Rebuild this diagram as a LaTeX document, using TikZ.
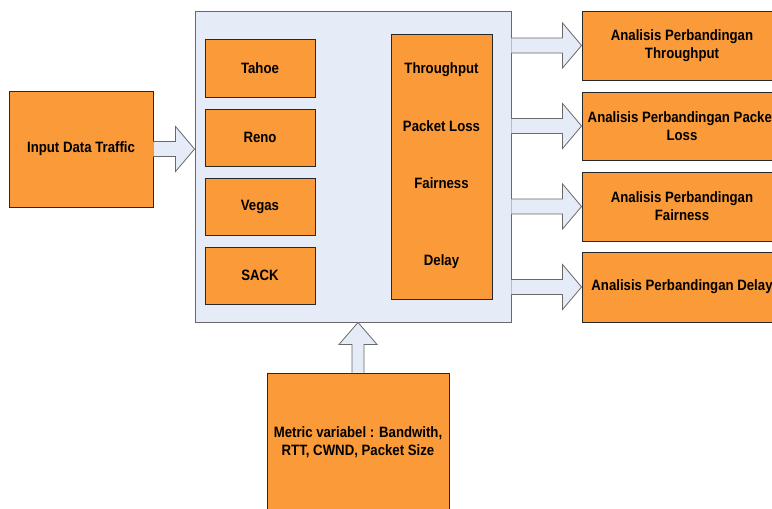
\documentclass[tikz,border=0pt]{standalone}
\usepackage{fontspec}
\setmainfont{Liberation Sans}[FakeStretch=0.88]
\usetikzlibrary{calc}
\definecolor{boxorange}{RGB}{250,154,56}
\definecolor{panelblue}{RGB}{229,236,247}
\definecolor{edgedark}{RGB}{40,40,40}
\definecolor{edgegray}{RGB}{105,105,105}
\tikzset{
  obox/.style={draw=edgedark, line width=0.9pt, fill=boxorange, inner sep=0pt,
    font=\bfseries\fontsize{15}{18}\selectfont, align=center},
  panel/.style={draw=edgegray, line width=0.9pt, fill=panelblue, inner sep=0pt},
  lbl/.style={inner sep=0pt, font=\bfseries\fontsize{15}{18}\selectfont, text height=10pt, text depth=3pt},
  barrow/.style={draw=edgegray, line width=0.8pt, fill=panelblue, line join=miter}
}
\newcommand{\harrow}[2]{%
  \draw[barrow] ($(#1)+(0,-7.5)$) -- ($(#2)+(-19,-7.5)$) -- ($(#2)+(-19,-22.5)$) -- (#2)
    -- ($(#2)+(-19,22.5)$) -- ($(#2)+(-19,7.5)$) -- ($(#1)+(0,7.5)$);}
\begin{document}
\begin{tikzpicture}[x=1pt,y=-1pt]
\clip (0,0) rectangle (772,509);
\fill[white] (0,0) rectangle (772,509);
% main panel
\node[panel, minimum width=316pt, minimum height=311pt] (main) at (353,166.5) {};
\node[obox, minimum width=110pt, minimum height=58pt] (tahoe) at (260,68) {Tahoe};
\node[obox, minimum width=110pt, minimum height=57pt] (reno) at (260,137.5) {Reno};
\node[obox, minimum width=110pt, minimum height=57pt] (vegas) at (260,206.5) {Vegas};
\node[obox, minimum width=110pt, minimum height=57pt] (sack) at (260,275.5) {SACK};
\node[obox, minimum width=101pt, minimum height=265pt] (metrics) at (441.5,166.5) {};
\node[lbl] (tput) at (441.5,70) {Throughput};
\node[lbl] (ploss) at (441.5,128) {Packet Loss};
\node[lbl] (fair) at (441.5,185) {Fairness};
\node[lbl] (delay) at (441.5,262) {Delay};
% input
\node[obox, minimum width=144pt, minimum height=116pt] (in) at (81,149) {Input Data Traffic};
% outputs
\node[obox, minimum width=200pt, minimum height=69pt] (r1) at (682,45.5) {Analisis Perbandingan\\Throughput};
\node[obox, minimum width=200pt, minimum height=68pt] (r2) at (682,126) {Analisis Perbandingan Packet\\Loss};
\node[obox, minimum width=200pt, minimum height=69pt] (r3) at (682,206.5) {Analisis Perbandingan\\Fairness};
\node[obox, minimum width=200pt, minimum height=70pt] (r4) at (682,287) {Analisis Perbandingan Delay};
% metric variables
\node[obox, minimum width=182pt, minimum height=138pt] (metric) at (358,442) {Metric variabel : Bandwith,\\RTT, CWND, Packet Size};
% arrows
\coordinate (tipin) at (main.west |- in.east);
\harrow{in.east}{tipin}
\coordinate (s1) at (main.east |- r1.west);
\coordinate (s2) at (main.east |- r2.west);
\coordinate (s3) at (main.east |- r3.west);
\coordinate (s4) at (main.east |- r4.west);
\harrow{s1}{r1.west}
\harrow{s2}{r2.west}
\harrow{s3}{r3.west}
\harrow{s4}{r4.west}
\coordinate (tipb) at (main.south -| metric.north);
\draw[barrow] ($(metric.north)+(-6,0)$) -- ($(tipb)+(-6,22)$) -- ($(tipb)+(-19,22)$) -- (tipb)
  -- ($(tipb)+(19,22)$) -- ($(tipb)+(6,22)$) -- ($(metric.north)+(6,0)$);
\end{tikzpicture}
\end{document}
